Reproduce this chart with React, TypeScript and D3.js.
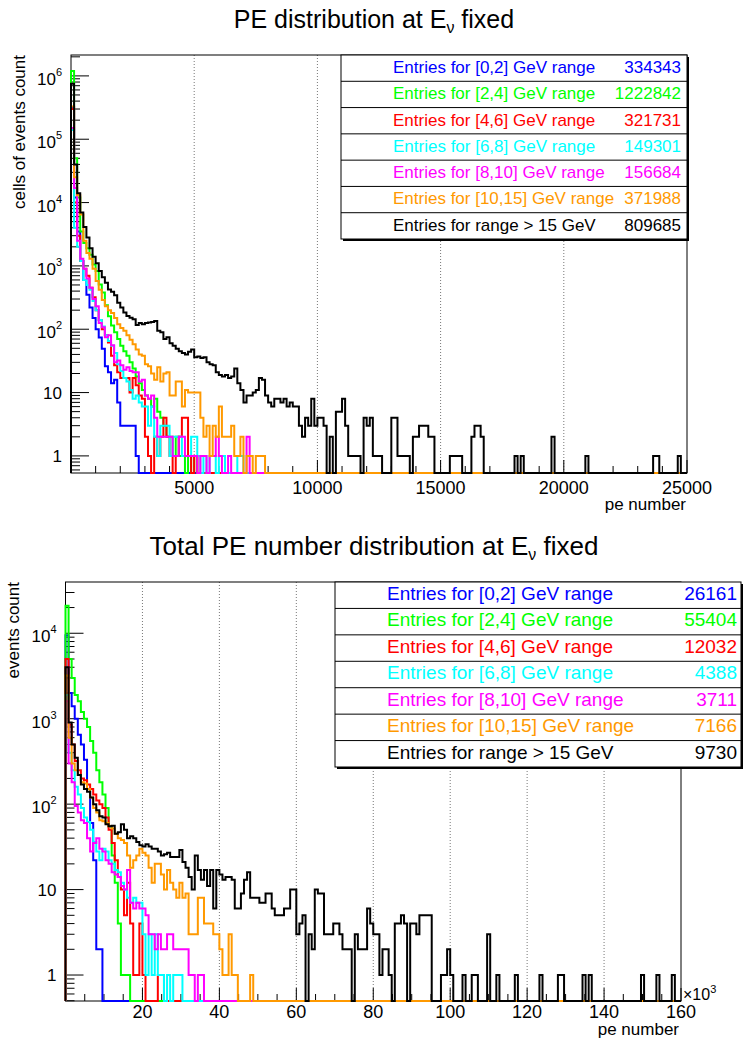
import React from 'react';
import * as d3 from 'd3';

const FONT = '"Liberation Sans", Arial, Helvetica, sans-serif';
const BIN_COUNT = 200;

const seriesColors = ['#0000ff', '#00ff00', '#ff0000', '#00ffff', '#ff00ff', '#ff9900', '#000000'];
const seriesLabels = [
  'Entries for [0,2] GeV range',
  'Entries for [2,4] GeV range',
  'Entries for [4,6] GeV range',
  'Entries for [6,8] GeV range',
  'Entries for [8,10] GeV range',
  'Entries for [10,15] GeV range',
  'Entries for range > 15 GeV',
];

// ---- PE distribution (200 bins, 0..25000) ----
const peEntries = [334343, 1222842, 321731, 149301, 156684, 371988, 809685];

const peBlue = [320000, 12000, 3500, 1200, 600, 350, 220, 150, 100, 74, 49, 26, 21, 14, 16, 7, 3, 3, 3, 3, 3, 1];
const peGreen = [1200000, 50000, 12000, 3500, 2300, 1900, 1500, 1050, 830, 510, 380, 240, 160, 115, 90, 70, 55, 45, 38, 30,
  24, 18, 14, 11, 9, 8, 6, 8, 5, 4, 3, 2, 2, 1, 2, 1, 1, 0, 1, 0, 1];
const peRed = [300000, 10000, 3000, 1200, 900, 700, 450, 320, 200, 140, 100, 80, 62, 38, 27, 21, 17, 17, 17, 10,
  17, 13, 9, 8, 2, 1, 0, 2, 1, 2, 4, 2, 1, 0, 1, 2, 4, 4, 1, 0, 1];
const peCyan = [140000, 4000, 2000, 1200, 600, 500, 420, 280, 200, 140, 110, 80, 65, 55, 42, 28, 22, 17, 15, 11,
  8, 9, 7, 6, 6, 3, 6, 2, 1, 3, 3, 3, 1, 2, 2, 2, 1, 1, 1, 2, 2, 1, 0, 1, 0, 1, 1, 0, 1, 1, 0, 0, 0, 0, 1, 1];
const peMagenta = [150000, 17000, 2500, 1300, 900, 630, 450, 300, 230, 125, 107, 75, 80, 56, 30, 32, 27, 23, 25, 22,
  21, 21, 15, 16, 9, 8, 9, 4, 2, 2, 2, 2, 2, 1, 1, 2, 2, 1, 1, 1, 1, 0, 1, 1, 0, 1, 1, 2, 1, 0, 0, 1, 0, 0, 0, 0, 0, 2];
const peOrange = [330000, 25000, 13000, 6500, 2500, 1600, 1300, 900, 580, 420, 290, 230, 200, 180, 150, 120, 105, 95, 80, 68,
  58, 48, 40, 38, 28, 26, 20, 16, 25, 15, 20, 21, 9, 9, 15, 15, 6, 11, 10, 10,
  10, 10, 4, 2, 3, 1, 3, 2, 6, 2, 2, 2, 3, 1, 1, 2, 0, 1, 1, 0, 1, 1, 1];
const peBlack = [750000, 40000, 14000, 7000, 4100, 2800, 1900, 1400, 1100, 830,
  660, 540, 425, 390, 345, 262, 220, 183, 162, 152,
  144, 117, 125, 120, 126, 128, 130, 135, 95, 90,
  70, 75, 60, 55, 49, 45, 42, 40, 44, 48,
  36, 37, 35, 36, 30, 28, 27, 21, 19, 18,
  19, 17, 18, 24, 14, 11, 7, 9, 9, 10,
  11, 17, 16, 9, 7, 6, 8, 8, 7, 8,
  6, 7, 6, 6, 3, 2, 4, 3, 8, 3,
  4, 4, 3, 0, 2, 0, 5, 5, 8, 3,
  1, 1, 1, 1, 0, 4, 3, 4, 1, 1,
  1, 0, 0, 0, 4, 4, 1, 1, 1, 1,
  0, 2, 2, 3, 3, 3, 2, 2, 0, 0,
  0, 0, 0, 1, 1, 1, 1, 0, 0, 0,
  2, 3, 3, 2, 0, 0, 0, 0, 0, 0,
  0, 0, 0, 0, 1, 0, 1, 0, 0, 0,
  0, 0, 0, 0, 0, 0, 2, 0, 0, 0,
  0, 0, 0, 0, 0, 0, 0, 1, 0, 0,
  0, 0, 0, 0, 0, 0, 0, 0, 0, 0,
  0, 0, 0, 0, 0, 0, 0, 0, 0, 1,
  1, 0, 0, 0, 0, 0, 0, 1];

// ---- Total PE number distribution (200 bins, 0..160000) ----
const totEntries = [26161, 55404, 12032, 4388, 3711, 7166, 9730];

const totBlue = [9500, 2000, 1400, 1000, 650, 500, 330, 150, 60, 22, 2, 2];
const totGreen = [21000, 5000, 3000, 1900, 1600, 1200, 1000, 800, 550, 400, 250, 180, 130, 90, 55, 25, 12, 4, 1, 1, 1];
const totRed = [5000, 850, 500, 320, 250, 200, 190, 170, 150, 130, 110, 100, 90, 70, 50, 35, 22, 14, 10, 5,
  12, 4, 1, 1, 4, 1, 0, 0, 0, 0, 1, 1];
const totCyan = [1900, 400, 250, 160, 130, 90, 70, 62, 50, 36, 28, 22, 30, 28, 22, 20, 17, 16, 12, 10,
  8, 7, 8, 7, 7, 3, 1, 3, 1, 3, 1, 1, 0, 1, 0, 1, 1, 1];
const totMagenta = [1600, 300, 180, 95, 80, 65, 60, 40, 28, 35, 40, 30, 28, 22, 20, 16, 15, 14, 11, 10,
  17, 7, 6, 7, 6, 6, 5, 3, 3, 2, 3, 2, 2, 3, 3, 2, 2, 2, 2, 2, 1, 1, 0, 1, 1];
const totOrange = [3200, 600, 300, 250, 220, 180, 175, 150, 120, 90, 80, 65, 63, 60, 55, 52, 45, 40, 38, 35,
  25, 18, 22, 25, 30, 27, 25, 18, 12, 20, 20, 15, 10, 17, 12, 10, 8, 12, 8, 9,
  3, 3, 3, 8, 8, 4, 4, 4, 3, 3, 2, 1, 1, 3, 1, 1, 0, 0, 0, 0, 1];
const totBlack = [4000, 900, 500, 350, 220, 170, 150, 140, 120, 100,
  85, 72, 70, 58, 55, 56, 45, 47, 58, 50,
  40, 42, 40, 36, 33, 32, 34, 32, 30, 30,
  28, 25, 26, 27, 24, 24, 24, 29, 21, 18,
  14, 10, 25, 17, 13, 17, 11, 17, 6, 17,
  15, 13, 14, 14, 13, 6, 6, 9, 13, 16,
  8, 8, 8, 7, 7, 9, 9, 6, 5, 5,
  5, 6, 6, 10, 10, 3, 4, 5, 0, 3,
  2, 10, 9, 9, 3, 3, 3, 4, 4, 3,
  2, 2, 2, 0, 3, 2, 2, 2, 6, 4,
  3, 3, 1, 2, 2, 1, 0, 4, 4, 5,
  4, 0, 4, 4, 3, 5, 5, 5, 5, 0,
  0, 0, 1, 1, 2, 1, 0, 0, 0, 1,
  0, 0, 1, 1, 0, 0, 0, 3, 0, 0,
  1, 0, 0, 0, 0, 0, 1, 0, 0, 0,
  0, 0, 0, 0, 1, 0, 0, 0, 0, 0,
  1, 1, 0, 0, 0, 0, 0, 0, 1, 0,
  1, 0, 0, 0, 0, 0, 0, 0, 0, 0,
  0, 0, 0, 0, 0, 0, 0, 1, 0, 0,
  0, 0, 1, 0, 0, 0, 0, 1];

const panels = [
  {
    title: 'PE distribution at E', titleY: 28, titleSize: 25,
    yTitle: 'cells of events count', yTitleX: 25,
    x0: 71, x1: 687, y0: 55, y1: 473,
    xMax: 25000, binWidth: 125, xMinor: 1000, xMajor: 5000, xDiv: 1,
    yLo: Math.pow(10, -0.27), yHi: Math.pow(10, 6.33),
    xLabelY: 494, xTitleX: 686, xTitleY: 510, yLabelX: 62,
    series: [peBlue, peGreen, peRed, peCyan, peMagenta, peOrange, peBlack],
    entries: peEntries,
    legend: { x0: 341, x1: 687, y0: 55, y1: 239, size: 17, numRight: 6 },
    exponent: false,
  },
  {
    title: 'Total PE number distribution at E', titleY: 555, titleSize: 26,
    yTitle: 'events count', yTitleX: 18.5,
    x0: 65.5, x1: 681, y0: 582, y1: 1001,
    xMax: 160000, binWidth: 800, xMinor: 5000, xMajor: 20000, xDiv: 1000,
    yLo: Math.pow(10, -0.304), yHi: Math.pow(10, 4.6),
    xLabelY: 1018, xTitleX: 679, xTitleY: 1035, yLabelX: 56.5,
    series: [totBlue, totGreen, totRed, totCyan, totMagenta, totOrange, totBlack],
    entries: totEntries,
    legend: { x0: 335, x1: 741, y0: 582, y1: 767, size: 19, numRight: 4 },
    exponent: true,
  },
];

const Panel = ({ cfg }) => {
  const { x0, x1, y0, y1, xMax, binWidth, yLo, yHi, legend } = cfg;

  const xScale = d3.scaleLinear().domain([0, xMax]).range([x0, x1]);
  const yScale = d3.scaleLog().domain([yLo, yHi]).range([y1, y0]);

  const stepLine = d3.line()
    .x(d => xScale(d[0]))
    .y(d => yScale(Math.max(d[1], yLo)))
    .curve(d3.curveStepAfter);

  const histPath = (vals) => {
    const pts = [[0, 0]];
    for (let i = 0; i < BIN_COUNT; i++) pts.push([i * binWidth, vals[i] || 0]);
    pts.push([BIN_COUNT * binWidth, vals[BIN_COUNT - 1] || 0]);
    pts.push([BIN_COUNT * binWidth, 0]);
    return stepLine(pts);
  };

  // log ticks: decades + 2..9 minors
  const yTicks = [];
  for (let e = Math.floor(Math.log10(yLo)); e <= Math.ceil(Math.log10(yHi)); e++) {
    for (let k = 1; k <= 9; k++) {
      const v = k * Math.pow(10, e);
      if (v >= yLo && v <= yHi) yTicks.push({ v, major: k === 1, e });
    }
  }

  const xTicks = d3.range(cfg.xMinor, xMax + 1, cfg.xMinor).map(v => ({ v, major: v % cfg.xMajor === 0 }));

  const rowH = (legend.y1 - legend.y0) / 7;

  return (
    <g fontFamily={FONT}>
      <text x={374} y={cfg.titleY} textAnchor="middle" fontSize={cfg.titleSize}>
        {cfg.title}<tspan fontSize={16} dy={5}>ν</tspan><tspan dy={-5}> fixed</tspan>
      </text>

      {/* grid */}
      {xTicks.filter(t => t.major && t.v < xMax).map(t => (
        <line key={`g${t.v}`} x1={xScale(t.v)} x2={xScale(t.v)} y1={y0} y2={y1}
          stroke="#777" strokeWidth={1} strokeDasharray="1,2" />
      ))}

      <rect x={x0} y={y0} width={x1 - x0} height={y1 - y0} fill="none" stroke="#000" strokeWidth={1} />

      {yTicks.map(t => (
        <line key={`yt${t.v}`} x1={x0} x2={x0 + (t.major ? 18 : 9)} y1={yScale(t.v)} y2={yScale(t.v)}
          stroke="#000" strokeWidth={1} />
      ))}
      {yTicks.filter(t => t.major).map(t => (
        t.e >= 2 ? (
          <text key={`yl${t.v}`} x={cfg.yLabelX} y={yScale(t.v) + 9} textAnchor="end" fontSize={17}>
            10<tspan fontSize={11} dy={-9}>{t.e}</tspan>
          </text>
        ) : (
          <text key={`yl${t.v}`} x={cfg.yLabelX} y={yScale(t.v) + 6} textAnchor="end" fontSize={17}>
            {t.e === 1 ? '10' : '1'}
          </text>
        )
      ))}

      {xTicks.map(t => (
        <line key={`xt${t.v}`} x1={xScale(t.v)} x2={xScale(t.v)} y1={y1} y2={y1 - (t.major ? 13 : 7)}
          stroke="#000" strokeWidth={1} />
      ))}
      {xTicks.filter(t => t.major).map(t => (
        <text key={`xl${t.v}`} x={xScale(t.v)} y={cfg.xLabelY} textAnchor="middle" fontSize={18}>
          {t.v / cfg.xDiv}
        </text>
      ))}
      {cfg.exponent && (
        <text x={x1 + 2} y={y1 - 1} fontSize={16}>×10<tspan fontSize={11} dy={-7}>3</tspan></text>
      )}
      <text x={cfg.xTitleX} y={cfg.xTitleY} textAnchor="end" fontSize={17}>pe number</text>
      <text transform={`translate(${cfg.yTitleX},${y0}) rotate(-90)`} textAnchor="end" fontSize={17}>{cfg.yTitle}</text>

      {cfg.series.map((vals, i) => (
        <path key={`h${i}`} d={histPath(vals)} fill="none" stroke={seriesColors[i]} strokeWidth={2} />
      ))}

      {/* legend with shadow */}
      <rect x={legend.x0 + 2} y={legend.y0 + 2} width={legend.x1 - legend.x0} height={legend.y1 - legend.y0} fill="#000" />
      <rect x={legend.x0} y={legend.y0} width={legend.x1 - legend.x0} height={legend.y1 - legend.y0}
        fill="#fff" stroke="#000" strokeWidth={1} />
      {seriesLabels.map((label, i) => (
        <g key={`lg${i}`}>
          {i > 0 && (
            <line x1={legend.x0} x2={legend.x1} y1={legend.y0 + rowH * i} y2={legend.y0 + rowH * i}
              stroke="#000" strokeWidth={1} />
          )}
          <text x={legend.x0 + 52} y={legend.y0 + rowH * i + 18} fontSize={legend.size} fill={seriesColors[i]}>{label}</text>
          <text x={legend.x1 - legend.numRight} y={legend.y0 + rowH * i + 18} fontSize={legend.size} textAnchor="end"
            fill={seriesColors[i]}>
            {cfg.entries[i]}
          </text>
        </g>
      ))}
    </g>
  );
};

const App = () => (
  <svg width={748} height={1042} style={{ position: 'absolute', left: 0, top: 0, background: '#fff' }}>
    <rect width={748} height={1042} fill="#fff" />
    {panels.map((p, i) => <Panel key={i} cfg={p} />)}
  </svg>
);

export default App;
